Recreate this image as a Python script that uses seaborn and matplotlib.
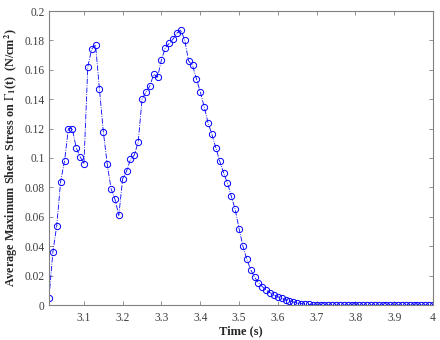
import numpy as np
import matplotlib
matplotlib.use("Agg")
import matplotlib.pyplot as plt
import seaborn as sns

# %%
# tempo (s), passo de 0.01 s entre 3.01 e 4.00
tempo = np.round(np.linspace(3.01, 4.0, 100), 2)

tensao = [
    0.005, 0.036, 0.054, 0.084, 0.098, 0.120, 0.120, 0.107, 0.101, 0.096,
    0.162, 0.174, 0.177, 0.147, 0.118, 0.096, 0.079, 0.072, 0.061, 0.086,
    0.091, 0.099, 0.102, 0.111, 0.140, 0.145, 0.149, 0.157, 0.155, 0.167,
    0.175, 0.178, 0.181, 0.185, 0.187, 0.180, 0.166, 0.163, 0.154, 0.145,
    0.135, 0.124, 0.116, 0.107, 0.098, 0.090, 0.083, 0.074, 0.065, 0.052,
    0.040, 0.031, 0.024, 0.019, 0.015, 0.0125, 0.010, 0.0084, 0.0068, 0.0056,
    0.0045, 0.0036, 0.0029, 0.0020, 0.0013, 0.0009, 0.0006, 0.0004, 0.0002, 0.0001,
    0.0, 0.0, 0.0, 0.0, 0.0, 0.0, 0.0, 0.0, 0.0, 0.0,
    0.0, 0.0, 0.0, 0.0, 0.0, 0.0, 0.0, 0.0, 0.0, 0.0,
    0.0, 0.0, 0.0, 0.0, 0.0, 0.0, 0.0, 0.0, 0.0, 0.0,
]

xticks = [3.1, 3.2, 3.3, 3.4, 3.5, 3.6, 3.7, 3.8, 3.9, 4.0]
xticklabels = ["3.1", "3.2", "3.3", "3.4", "3.5", "3.6", "3.7", "3.8", "3.9", "4"]
yticks = [0, 0.02, 0.04, 0.06, 0.08, 0.1, 0.12, 0.14, 0.16, 0.18, 0.2]
yticklabels = ["0", "0.02", "0.04", "0.06", "0.08", "0.1", "0.12", "0.14", "0.16", "0.18", "0.2"]

# %%
sns.set_style("ticks")
plt.rcParams["font.family"] = ["Liberation Serif", "DejaVu Serif"]
plt.rcParams["mathtext.fontset"] = "stix"

fig, ax = plt.subplots(figsize=(4.4, 3.4), dpi=100)
fig.subplots_adjust(left=49 / 440, right=433 / 440, bottom=1 - 305 / 340, top=1 - 11 / 340)

sns.lineplot(
    x=tempo,
    y=tensao,
    ax=ax,
    color="blue",
    linestyle="-.",
    linewidth=0.6,
    marker="o",
    markersize=4.5,
    markerfacecolor="none",
    markeredgecolor="blue",
    markeredgewidth=0.7,
)

ax.set_xlim(3.01, 4.0)
ax.set_ylim(0, 0.2)
ax.set_xticks(xticks)
ax.set_xticklabels(xticklabels)
ax.set_yticks(yticks)
ax.set_yticklabels(yticklabels)

for spine in ax.spines.values():
    spine.set_visible(True)
    spine.set_color("#808080")
    spine.set_linewidth(0.8)

ax.tick_params(
    direction="in", top=True, right=True, length=3, width=0.6,
    color="#808080", labelcolor="#404040", labelsize=8.3,
)
ax.tick_params(axis="x", pad=5)
ax.tick_params(axis="y", pad=3)

ax.set_xlabel("Time (s)", fontsize=9, fontweight="bold", color="#262626", labelpad=1)
ax.set_ylabel(
    r"Average Maximum Shear Stress on $\Gamma_{\mathbf{1}}$(t)  (N/cm$^{\mathbf{2}}$)",
    fontsize=8.7, fontweight="bold", color="#262626", labelpad=3,
)

fig.savefig("out.png", dpi=100)
